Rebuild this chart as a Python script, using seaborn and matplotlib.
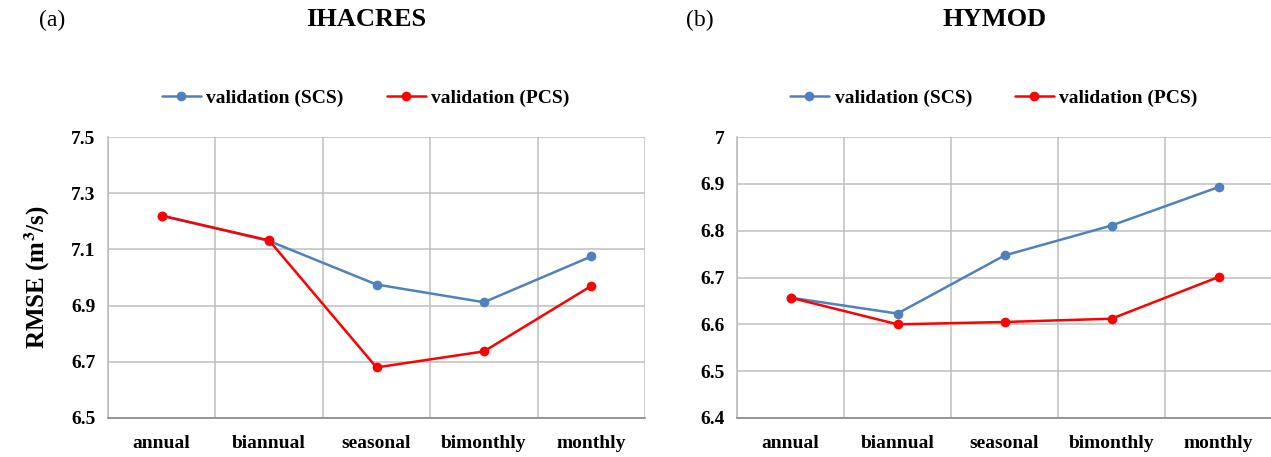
import numpy as np
import pandas as pd
import matplotlib
matplotlib.use("Agg")
import matplotlib.pyplot as plt
import seaborn as sns
from matplotlib.ticker import FixedLocator

categories = ["annual", "biannual", "seasonal", "bimonthly", "monthly"]
series_names = ["validation (SCS)", "validation (PCS)"]

ihacres_scs = [7.220, 7.130, 6.975, 6.912, 7.075]
ihacres_pcs = [7.220, 7.132, 6.680, 6.737, 6.970]
hymod_scs = [6.657, 6.623, 6.747, 6.811, 6.893]
hymod_pcs = [6.657, 6.600, 6.605, 6.612, 6.701]

ihacres_yticks = [6.5, 6.7, 6.9, 7.1, 7.3, 7.5]
ihacres_ylabels = ["6.5", "6.7", "6.9", "7.1", "7.3", "7.5"]
hymod_yticks = [6.4, 6.5, 6.6, 6.7, 6.8, 6.9, 7.0]
hymod_ylabels = ["6.4", "6.5", "6.6", "6.7", "6.8", "6.9", "7"]

sns.set_style("white")
plt.rcParams["font.family"] = ["Liberation Serif", "DejaVu Serif"]
plt.rcParams["mathtext.fontset"] = "stix"
plt.rcParams["text.color"] = "black"
plt.rcParams["axes.labelcolor"] = "black"
plt.rcParams["xtick.labelcolor"] = "black"
plt.rcParams["ytick.labelcolor"] = "black"

palette = {series_names[0]: "#4F81BD", series_names[1]: "#FF0000"}


def make_df(scs, pcs):
    rows = []
    for name, vals in zip(series_names, [scs, pcs]):
        for c, v in zip(categories, vals):
            rows.append({"category": c, "series": name, "RMSE": v})
    return pd.DataFrame(rows)


fig = plt.figure(figsize=(12.71, 4.57), dpi=100)
W, H = 1271, 457
ax1 = fig.add_axes([108 / W, (H - 418) / H, 537 / W, 281 / H])
ax2 = fig.add_axes([737 / W, (H - 418) / H, 535 / W, 281 / H])

panels = [
    (ax1, ihacres_scs, ihacres_pcs, ihacres_yticks, ihacres_ylabels, "IHACRES", "(a)", 366, 52),
    (ax2, hymod_scs, hymod_pcs, hymod_yticks, hymod_ylabels, "HYMOD", "(b)", 995, 700),
]

for ax, scs, pcs, yt, yl, title, tag, tx, ax_tag in panels:
    df = make_df(scs, pcs)
    sns.lineplot(data=df, x="category", y="RMSE", hue="series", palette=palette,
                 marker="o", markersize=7, markeredgewidth=0, linewidth=1.8,
                 sort=False, ax=ax, legend=True)
    ax.set_xlim(-0.5, len(categories) - 0.5)
    ax.set_ylim(yt[0], yt[-1])
    ax.set_yticks(yt)
    ax.set_yticklabels(yl, fontsize=14, fontweight="bold", color="black")
    ax.set_xticks(range(len(categories)))
    ax.set_xticklabels(categories, fontsize=14, fontweight="bold", color="black")
    ax.xaxis.set_minor_locator(FixedLocator(np.arange(-0.5, len(categories), 1.0)))
    ax.tick_params(axis="x", which="major", length=0, pad=12)
    ax.tick_params(axis="x", which="minor", length=6, color="#888888", width=1)
    ax.tick_params(axis="y", which="major", length=5, color="#BBBBBB", width=1, pad=4)
    ax.grid(axis="y", which="major", color="#BEBEBE", linewidth=1.1)
    ax.grid(axis="x", which="minor", color="#BEBEBE", linewidth=1.1)
    ax.grid(axis="x", which="major", visible=False)
    ax.set_axisbelow(True)
    for s in ["top", "right"]:
        ax.spines[s].set_visible(False)
    ax.spines["left"].set_color("#BBBBBB")
    ax.spines["left"].set_linewidth(1.1)
    ax.spines["bottom"].set_color("#888888")
    ax.spines["bottom"].set_linewidth(1.2)
    ax.set_xlabel("")
    ax.set_ylabel("")
    handles, labels = ax.get_legend_handles_labels()
    leg = ax.legend(handles, labels, loc="center", bbox_to_anchor=(0.48, 1.139), ncol=2,
                    frameon=False, handlelength=2.0, handletextpad=0.3, columnspacing=2.2,
                    prop={"family": "Liberation Serif", "weight": "bold", "size": 14})
    for t in leg.get_texts():
        t.set_color("black")
    fig.text(tx / W, 1 - 20 / H, title, ha="center", va="center",
             fontsize=19, fontweight="bold", color="black")
    fig.text(ax_tag / W, 1 - 20 / H, tag, ha="center", va="center", fontsize=17,
             color="black")

ax1.set_ylabel("RMSE (m$^\\mathbf{3}$/s)", fontsize=18, fontweight="bold", labelpad=14,
               color="black")

fig.savefig("out.png", dpi=100)
